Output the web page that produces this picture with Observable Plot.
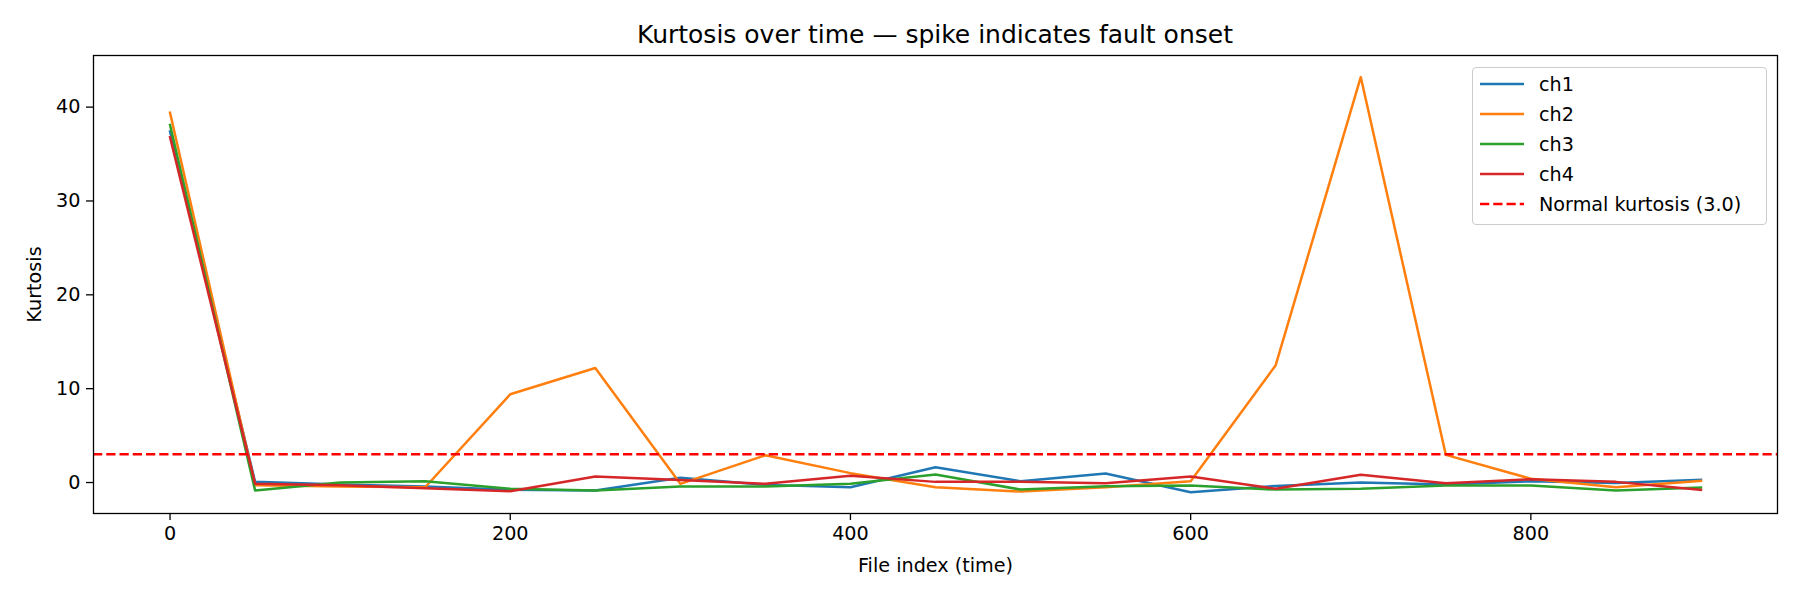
<!DOCTYPE html>
<html>
<head>
<meta charset="utf-8">
<script src="https://cdn.jsdelivr.net/npm/d3@7"></script>
<script src="https://cdn.jsdelivr.net/npm/@observablehq/plot@0.6"></script>
<style>
  html, body { margin: 0; padding: 0; background: #fff; }
  body { width: 1800px; height: 600px; position: relative; overflow: hidden; font-family: "DejaVu Sans", sans-serif; }
  #title { height: 50px; box-sizing: border-box; padding: 22px 23px 0 93px; text-align: center; font-size: 25px; line-height: 1; color: #000; white-space: nowrap; }
  #legend { position: absolute; left: 1472px; top: 67px; width: 295px; height: 158px; box-sizing: border-box;
            border: 1.3px solid #cccccc; border-radius: 4px; background: rgba(255,255,255,0.8); padding-top: 1px; }
  .row { height: 30px; display: flex; align-items: center; font-size: 19.2px; color: #000; white-space: nowrap; }
  .row svg { margin-left: 7px; margin-right: 15px; }
</style>
</head>
<body>
<div id="title">Kurtosis over time — spike indicates fault onset</div>
<div id="chart"></div>
<div id="legend"></div>
<script>
const fileIndex = [0, 50, 100, 150, 200, 250, 300, 350, 400, 450, 500, 550, 600, 650, 700, 750, 800, 850, 900];
const ch1 = [37.4, 0.07, -0.2, -0.43, -0.78, -0.85, 0.5, -0.25, -0.5, 1.63, 0.14, 0.96, -1.03, -0.36, 0.0, -0.21, 0.14, -0.04, 0.28];
const ch2 = [39.4, -0.3, -0.43, -0.5, 9.4, 12.2, -0.14, 2.9, 1.0, -0.5, -0.96, -0.5, 0.14, 12.5, 43.2, 2.95, 0.4, -0.5, 0.18];
const ch3 = [38.1, -0.85, 0.0, 0.14, -0.67, -0.85, -0.43, -0.43, -0.14, 0.85, -0.75, -0.39, -0.32, -0.75, -0.67, -0.32, -0.32, -0.85, -0.53];
const ch4 = [36.8, -0.14, -0.28, -0.6, -0.92, 0.64, 0.28, -0.14, 0.71, 0.07, 0.07, -0.07, 0.64, -0.67, 0.82, -0.07, 0.36, 0.07, -0.78];
const seriesNames = ["ch1", "ch2", "ch3", "ch4"];
const seriesColors = ["#1f77b4", "#ff7f0e", "#2ca02c", "#d62728"];
const normalKurtosis = 3.0;
const normalLabel = "Normal kurtosis (3.0)";
const xTicks = [0, 200, 400, 600, 800];
const yTicks = [0, 10, 20, 30, 40];

const seriesValues = [ch1, ch2, ch3, ch4];
const rows = [];
seriesNames.forEach((name, s) => {
  fileIndex.forEach((x, i) => rows.push({series: name, x, y: seriesValues[s][i]}));
});

const chart = Plot.plot({
  width: 1800,
  height: 550,
  marginLeft: 93,
  marginRight: 23,
  marginTop: 5,
  marginBottom: 87,
  style: {fontFamily: "DejaVu Sans", fontSize: "19.2px", color: "#000", background: "#fff", overflow: "visible"},
  x: {domain: [-45, 945]},
  y: {domain: [-3.3, 45.5]},
  color: {domain: seriesNames, range: seriesColors},
  marks: [
    Plot.axisX({ticks: xTicks, tickSize: 7, tickPadding: 6, label: "File index (time)", labelAnchor: "center", labelArrow: false, labelOffset: 58, stroke: "#000", strokeWidth: 1.3}),
    Plot.axisY({ticks: yTicks, tickSize: 7, tickPadding: 6, label: "Kurtosis", labelAnchor: "center", labelArrow: false, labelOffset: 66, stroke: "#000", strokeWidth: 1.3}),
    Plot.line(rows, {x: "x", y: "y", z: "series", stroke: "series", strokeWidth: 2.5, strokeLinejoin: "round", strokeLinecap: "square"}),
    Plot.ruleY([normalKurtosis], {stroke: "#ff0000", strokeWidth: 2.5, strokeDasharray: "9.25,4"}),
    Plot.frame({stroke: "#000", strokeWidth: 1.3})
  ]
});
document.getElementById("chart").appendChild(chart);

// legend
const legend = document.getElementById("legend");
const legendItems = seriesNames.map((n, i) => ({label: n, color: seriesColors[i], dash: null}))
  .concat([{label: normalLabel, color: "#ff0000", dash: "9.25,4"}]);
legendItems.forEach(item => {
  const row = document.createElement("div");
  row.className = "row";
  row.innerHTML = `<svg width="44" height="6"><line x1="0" x2="44" y1="3" y2="3" stroke="${item.color}" stroke-width="2.5" ${item.dash ? `stroke-dasharray="${item.dash}"` : ""}/></svg><span>${item.label}</span>`;
  legend.appendChild(row);
});
</script>
</body>
</html>
